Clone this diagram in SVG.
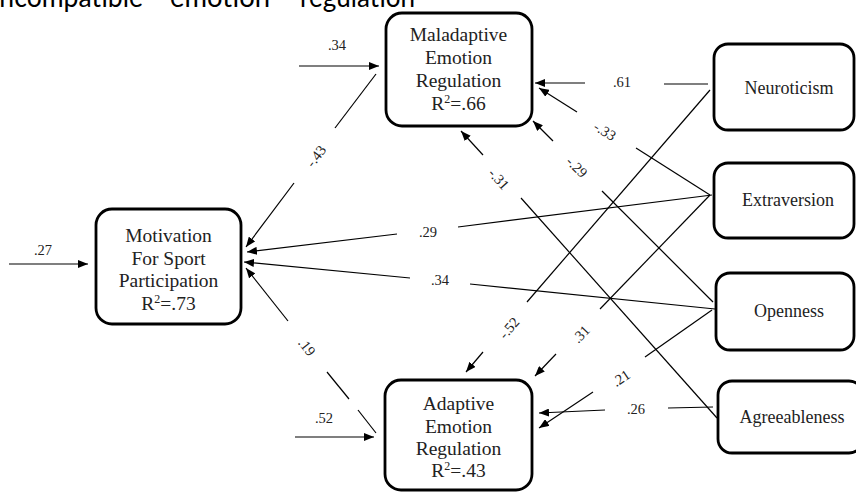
<svg xmlns="http://www.w3.org/2000/svg" width="856" height="492" viewBox="0 0 856 492">
<style>
.box{fill:#fff;stroke:#000;stroke-width:2.8}
.nt{font-family:'Liberation Serif','DejaVu Serif',serif;font-size:19.5px;fill:#222;text-anchor:middle}
.rt{font-family:'Liberation Serif','DejaVu Serif',serif;font-size:18px;fill:#222;text-anchor:middle}
.ln{stroke:#000;stroke-width:1.2;fill:none}
.lb{font-family:'Liberation Serif','DejaVu Serif',serif;font-size:14.5px;fill:#222;text-anchor:middle}
.lr{font-family:'Liberation Serif','DejaVu Serif',serif;font-size:14.5px;fill:#222;text-anchor:middle;dominant-baseline:central}
.top{font-family:Lato,'Open Sans',sans-serif;font-size:28px;fill:#000}
</style>
<defs>
<marker id="ah" viewBox="0 0 10 8" refX="10" refY="4" markerWidth="10" markerHeight="8" orient="auto" markerUnits="userSpaceOnUse">
<path d="M0,0 L10,4 L0,8 z" fill="#000"/>
</marker>
</defs>
<rect width="856" height="492" fill="#fff"/>
<g id="caption">
<text class="top" x="-7" y="7" textLength="150" lengthAdjust="spacingAndGlyphs">incompatible</text>
<text class="top" x="170" y="7" textLength="100" lengthAdjust="spacingAndGlyphs">emotion</text>
<text class="top" x="300" y="7" textLength="115" lengthAdjust="spacingAndGlyphs">regulation</text>
</g>
<g id="connectors">
<line class="ln" x1="9" y1="264" x2="88" y2="264" marker-end="url(#ah)"/>
<text class="lb" x="43" y="255">.27</text>
<line class="ln" x1="299" y1="66" x2="379" y2="66" marker-end="url(#ah)"/>
<text class="lb" x="337" y="50">.34</text>
<line class="ln" x1="295" y1="437" x2="374" y2="437" marker-end="url(#ah)"/>
<text class="lb" x="324" y="423">.52</text>
<line class="ln" x1="376" y1="74" x2="335" y2="128"/>
<text class="lr" transform="translate(316,156) rotate(-53)">-.43</text>
<line class="ln" x1="294" y1="183" x2="246" y2="247" marker-end="url(#ah)"/>
<line class="ln" x1="712" y1="195" x2="458" y2="227"/>
<text class="lb" x="428" y="237">.29</text>
<line class="ln" x1="397" y1="234" x2="247" y2="252" marker-end="url(#ah)"/>
<line class="ln" x1="715" y1="309" x2="470" y2="284"/>
<text class="lb" x="440" y="285">.34</text>
<line class="ln" x1="410" y1="278" x2="244" y2="262" marker-end="url(#ah)"/>
<line class="ln" x1="376" y1="433" x2="358" y2="410"/>
<line class="ln" x1="349" y1="399" x2="327" y2="372"/>
<text class="lr" transform="translate(307,347) rotate(52)">.19</text>
<line class="ln" x1="288" y1="321" x2="246" y2="268" marker-end="url(#ah)"/>
<line class="ln" x1="708" y1="84" x2="664" y2="84"/>
<text class="lb" x="622" y="87">.61</text>
<line class="ln" x1="585" y1="83" x2="535" y2="83" marker-end="url(#ah)"/>
<line class="ln" x1="710" y1="195" x2="636" y2="148"/>
<text class="lr" transform="translate(605,131) rotate(32)">-.33</text>
<line class="ln" x1="577" y1="112" x2="539" y2="88" marker-end="url(#ah)"/>
<line class="ln" x1="713" y1="302" x2="602" y2="191"/>
<text class="lr" transform="translate(577,167) rotate(45)">-.29</text>
<line class="ln" x1="553" y1="141" x2="533" y2="121" marker-end="url(#ah)"/>
<line class="ln" x1="717" y1="418" x2="521" y2="198"/>
<text class="lr" transform="translate(499,179) rotate(48)">-.31</text>
<line class="ln" x1="483" y1="155" x2="461" y2="131" marker-end="url(#ah)"/>
<line class="ln" x1="710" y1="90" x2="527" y2="302"/>
<text class="lr" transform="translate(509,328) rotate(-49)">-.52</text>
<line class="ln" x1="483" y1="352" x2="466" y2="372" marker-end="url(#ah)"/>
<line class="ln" x1="710" y1="195" x2="600" y2="309"/>
<text class="lr" transform="translate(581,334) rotate(-46)">.31</text>
<line class="ln" x1="556" y1="354" x2="535" y2="376" marker-end="url(#ah)"/>
<line class="ln" x1="712" y1="310" x2="645" y2="357"/>
<text class="lr" transform="translate(621,378) rotate(-34)">.21</text>
<line class="ln" x1="593" y1="392" x2="539" y2="428" marker-end="url(#ah)"/>
<line class="ln" x1="713" y1="407" x2="668" y2="408"/>
<text class="lb" x="636" y="414">.26</text>
<line class="ln" x1="605" y1="410" x2="539" y2="413" marker-end="url(#ah)"/>
</g>
<g id="maladaptive">
<rect class="box" x="386" y="13" width="146" height="113" rx="16"/>
<text class="nt" x="458.5" y="41">Maladaptive</text>
<text class="nt" x="458.5" y="64">Emotion</text>
<text class="nt" x="458.5" y="87">Regulation</text>
<text class="nt" x="458.5" y="110">R<tspan font-size="12" dy="-7">2</tspan><tspan dy="7">=.66</tspan></text>
</g>
<g id="motivation">
<rect class="box" x="96" y="209" width="145" height="115" rx="16"/>
<text class="nt" x="168.5" y="242">Motivation</text>
<text class="nt" x="168.5" y="264.5">For Sport</text>
<text class="nt" x="168.5" y="287">Participation</text>
<text class="nt" x="168.5" y="309.5">R<tspan font-size="12" dy="-7">2</tspan><tspan dy="7">=.73</tspan></text>
</g>
<g id="adaptive">
<rect class="box" x="385" y="380" width="147" height="110" rx="16"/>
<text class="nt" x="458.5" y="410">Adaptive</text>
<text class="nt" x="458.5" y="433">Emotion</text>
<text class="nt" x="458.5" y="455">Regulation</text>
<text class="nt" x="458.5" y="477">R<tspan font-size="12" dy="-7">2</tspan><tspan dy="7">=.43</tspan></text>
</g>
<g id="neuroticism">
<rect class="box" x="714" y="44" width="140" height="86" rx="14"/>
<text class="rt" x="789" y="94">Neuroticism</text>
</g>
<g id="extraversion">
<rect class="box" x="714" y="163" width="140" height="75" rx="14"/>
<text class="rt" x="788" y="206">Extraversion</text>
</g>
<g id="openness">
<rect class="box" x="716" y="273" width="138" height="77" rx="14"/>
<text class="rt" x="789" y="317">Openness</text>
</g>
<g id="agreeableness">
<rect class="box" x="718" y="381" width="145" height="72" rx="14"/>
<text class="rt" x="792" y="423">Agreeableness</text>
</g>
</svg>
